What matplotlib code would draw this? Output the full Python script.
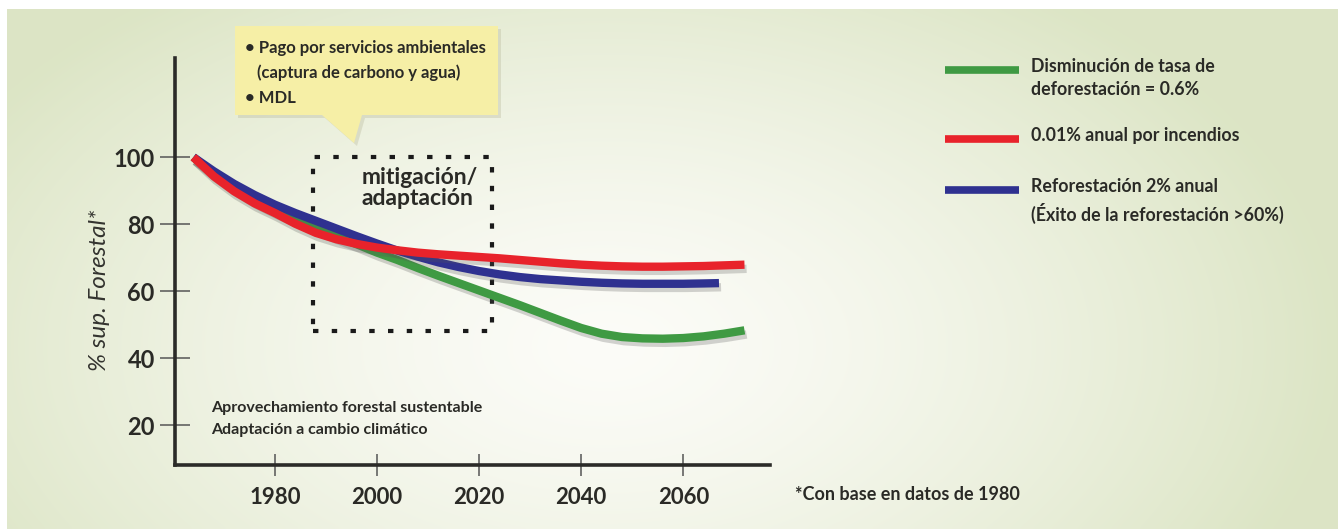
import numpy as np
import matplotlib
matplotlib.use("Agg")
import matplotlib.pyplot as plt
import matplotlib.patheffects as pe
from matplotlib.patches import Polygon, Rectangle

plt.rcParams['font.family'] = ['Lato', 'DejaVu Sans']

# forest cover scenarios (% of 1980 surface)
years_green = [1964, 1968, 1972, 1976, 1980, 1984, 1988, 1992, 1996, 2000, 2004, 2008,
               2012, 2016, 2020, 2024, 2028, 2032, 2036, 2040, 2044, 2048, 2052, 2056,
               2060, 2064, 2068, 2072]
green_vals = [100, 95.0, 90.7, 87.0, 84.0, 81.3, 78.8, 76.4, 74.0, 71.5, 69.3, 66.9,
              64.6, 62.4, 60.2, 58.0, 55.8, 53.5, 51.2, 49.0, 47.3, 46.3, 45.9, 45.8,
              46.0, 46.5, 47.3, 48.3]

years_red = [1964, 1968, 1972, 1976, 1980, 1984, 1988, 1992, 1996, 2000, 2004, 2008,
             2012, 2016, 2020, 2024, 2028, 2032, 2036, 2040, 2044, 2048, 2052, 2056,
             2060, 2064, 2068, 2072]
red_vals = [100, 94.3, 89.8, 86.2, 83.3, 80.1, 77.4, 75.5, 74.1, 73.0, 72.2, 71.5,
            71.0, 70.6, 70.2, 69.8, 69.3, 68.8, 68.3, 67.9, 67.6, 67.4, 67.3, 67.3,
            67.4, 67.5, 67.7, 67.9]

years_blue = [1964, 1968, 1972, 1976, 1980, 1984, 1988, 1992, 1996, 2000, 2004, 2008,
              2012, 2016, 2020, 2024, 2028, 2032, 2036, 2040, 2044, 2048, 2052, 2056,
              2060, 2064, 2067]
blue_vals = [100, 95.8, 92.0, 88.7, 85.8, 83.3, 81.0, 78.7, 76.4, 74.2, 72.1, 70.3,
             68.6, 67.2, 66.0, 65.0, 64.2, 63.6, 63.2, 62.8, 62.5, 62.3, 62.2, 62.2,
             62.2, 62.3, 62.4]

x_ticks = [1980, 2000, 2020, 2040, 2060]
y_ticks = [20, 40, 60, 80, 100]

legend_labels = ["Disminución de tasa de\ndeforestación = 0.6%",
                 "0.01% anual por incendios",
                 "Reforestación 2% anual\n(Éxito de la reforestación >60%)"]
callout_lines = ["• Pago por servicios ambientales",
                 "   (captura de carbono y agua)",
                 "• MDL"]

GREEN = "#3f9a43"
RED = "#e8232b"
BLUE = "#2f3190"
TXT = "#2a2a26"

W, H = 1338, 529
fig = plt.figure(figsize=(W / 100, H / 100), dpi=100, facecolor="white")

# soft greenish background with a pale centre
bg = fig.add_axes([7 / W, 0, 1 - 7 / W, 1 - 9 / H], zorder=-2)
gx, gy = np.meshgrid(np.linspace(0, 1, 400), np.linspace(0, 1, 160))
d = np.sqrt(((gx - 0.45) / 0.55) ** 2 + ((gy - 0.65) / 0.85) ** 2)
t = np.clip(d, 0, 1) ** 1.4
edge = np.array([0.863, 0.898, 0.773])
centre = np.array([0.988, 0.988, 0.972])
img = centre[None, None, :] * (1 - t[..., None]) + edge[None, None, :] * t[..., None]
bg.imshow(img, aspect="auto", interpolation="bicubic")
bg.set_axis_off()

# overlay in pixel units for callout and legend
ov = fig.add_axes([0, 0, 1, 1], zorder=3)
ov.set_xlim(0, W)
ov.set_ylim(H, 0)
ov.set_axis_off()

ax = fig.add_axes([175 / W, 64 / H, 595 / W, 407 / H], zorder=1)
ax.patch.set_alpha(0)
ax.set_xlim(1960.4, 2077)
ax.set_ylim(8.1, 129.6)
for s in ("top", "right"):
    ax.spines[s].set_visible(False)
for s in ("left", "bottom"):
    ax.spines[s].set_linewidth(2.6)
    ax.spines[s].set_color("#2b2b28")

ax.set_xticks(x_ticks)
ax.set_yticks(y_ticks)
ax.tick_params(axis="y", direction="inout", length=22, width=1.1, color="#555",
               pad=3.5, labelsize=17)
ax.tick_params(axis="x", direction="inout", length=16, width=1.1, color="#555",
               pad=8, labelsize=16)
for lab in ax.get_xticklabels() + ax.get_yticklabels():
    lab.set_fontweight("bold")
    lab.set_color(TXT)
ax.set_ylabel("% sup. Forestal*", fontsize=17.5, style="italic", color="#33332f")
ax.yaxis.set_label_coords(-0.109, 0.43)

shadow = [pe.SimpleLineShadow(offset=(1.5, -3), shadow_color="#555", alpha=0.25),
          pe.Normal()]
for yrs, vals, col in ((years_green, green_vals, GREEN),
                       (years_blue, blue_vals, BLUE),
                       (years_red, red_vals, RED)):
    ax.plot(yrs, vals, color=col, lw=6, solid_capstyle="butt", path_effects=shadow,
            zorder=3)

# dotted mitigation / adaptation window
ax.add_patch(Rectangle((1987.5, 48), 35, 52, fill=False, ec="#1a1a1a", lw=3,
                       ls=(0, (1.3, 3.2)), zorder=2))
ax.text(1997.0, 97, "mitigación/\nadaptación", fontsize=16.5, fontweight="bold",
        color=TXT, va="top", ha="left", linespacing=1.0)

ax.text(1967.5, 21.8, "Aprovechamiento forestal sustentable\nAdaptación a cambio climático",
        fontsize=11.5, fontweight="bold", color=TXT, va="center", ha="left",
        linespacing=1.7)

# callout bubble
bubble = [(235, 26), (498, 26), (498, 115), (362, 115), (354, 143), (322, 115),
          (235, 115)]
ov.add_patch(Polygon([(x + 3, y + 3) for x, y in bubble], closed=True, fc="#b8b89a",
                     ec="none", alpha=0.35))
ov.add_patch(Polygon(bubble, closed=True, fc="#f6efa6", ec="none"))
for i, line in enumerate(callout_lines):
    ov.text(245, 48 + i * 25, line, fontsize=12, fontweight="bold", color=TXT,
            va="center", ha="left")

# legend
leg_y = [70, 139, 190]
for col, lab, y in zip((GREEN, RED, BLUE), legend_labels, leg_y):
    ov.plot([945, 1019], [y, y], color=col, lw=5.5, solid_capstyle="butt")
    ov.text(1031, y - 12, lab, fontsize=12.8, fontweight="bold", color=TXT,
            va="top", ha="left", linespacing=1.45)

ov.text(795, 495, "*Con base en datos de 1980", fontsize=13, fontweight="bold",
        color=TXT, va="center", ha="left")

fig.savefig("out.png", dpi=100, facecolor="white")
